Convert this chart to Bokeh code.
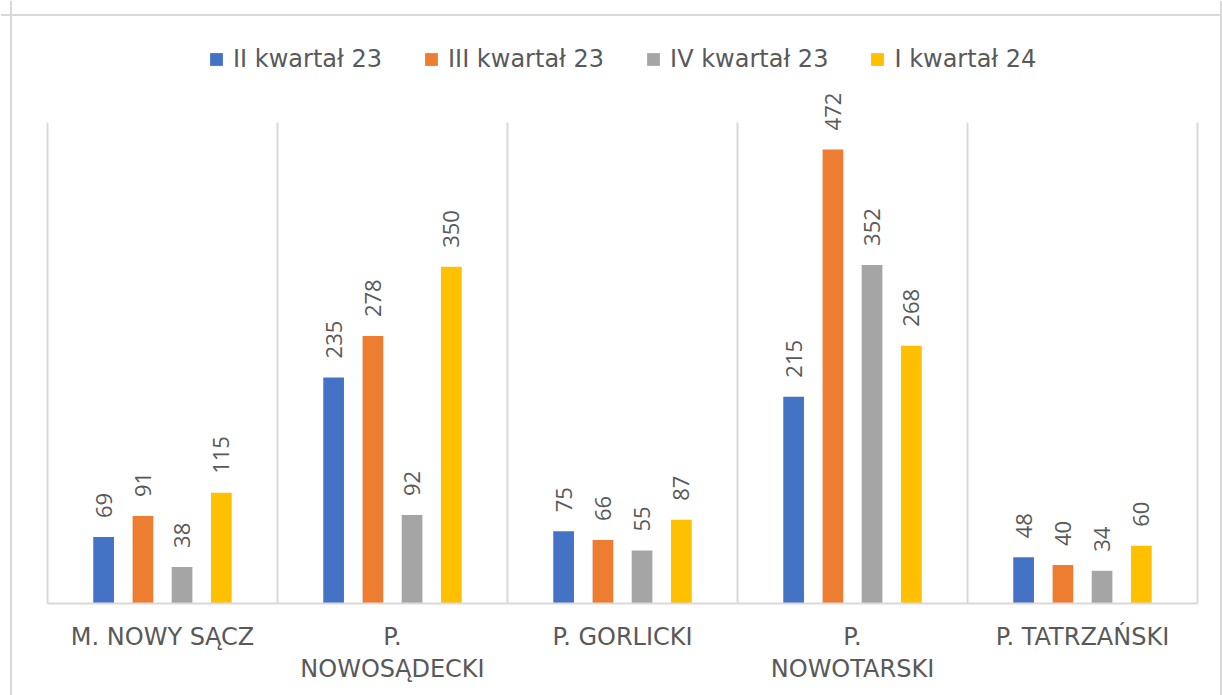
from bokeh.plotting import figure
from bokeh.models import (ColumnDataSource, Range1d, Legend, LegendItem, LinearAxis,
                          FixedTicker, Span)
from bokeh.core.properties import value
from bokeh.embed import file_html
from bokeh.resources import INLINE

categories = ["M. NOWY SĄCZ", "P. NOWOSĄDECKI", "P. GORLICKI", "P. NOWOTARSKI", "P. TATRZAŃSKI"]
tick_labels = ["M. NOWY SĄCZ", "P.\nNOWOSĄDECKI", "P. GORLICKI", "P.\nNOWOTARSKI", "P. TATRZAŃSKI"]
series_names = ["II kwartał 23", "III kwartał 23", "IV kwartał 23", "I kwartał 24"]
q2_23 = [69, 235, 75, 215, 48]
q3_23 = [91, 278, 66, 472, 40]
q4_23 = [38, 92, 55, 352, 34]
q1_24 = [115, 350, 87, 268, 60]
colors = ["#4472C4", "#ED7D31", "#A5A5A5", "#FFC000"]
series = [q2_23, q3_23, q4_23, q1_24]
offsets = [-0.256, -0.085, 0.085, 0.256]
y_max = 500

# layout (page pixels; the canvas sits at the page origin)
W, H = 1222, 695
PLOT_L, PLOT_R, PLOT_T, PLOT_B = 47, 1197, 122, 603
n = len(categories)
xs = (PLOT_R - PLOT_L) / n          # px per category
ys = (PLOT_B - PLOT_T) / y_max      # px per unit


def px_x(px):
    return (px - PLOT_L) / xs


def px_y(py):
    return (PLOT_B - py) / ys


p = figure(
    x_range=Range1d(px_x(0), px_x(W)),
    y_range=Range1d(px_y(H), px_y(0)),
    width=W, height=H,
    output_backend="svg", toolbar_location=None,
    min_border=0, x_axis_location=None, y_axis_location=None,
)
p.outline_line_color = None
p.background_fill_color = "white"
p.border_fill_color = "white"
p.grid.visible = False

# outer chart border
for loc, dim in [(px_x(10.5), "height"), (px_x(1220.5), "height"), (px_y(14.5), "width")]:
    p.add_layout(Span(location=loc, dimension=dim, line_color="#d9d9d9", line_width=2))

# category separators
bounds = list(range(n + 1))
p.segment(x0=bounds, x1=bounds, y0=[0] * (n + 1), y1=[y_max] * (n + 1),
          line_color="#d9d9d9", line_width=2)

items = []
for name, vals, col, off in zip(series_names, series, colors, offsets):
    src = ColumnDataSource(dict(x=[i + 0.5 + off for i in range(n)], v=vals,
                                t=[str(v) for v in vals]))
    r = p.vbar(x="x", top="v", width=0.09, source=src, fill_color=col, line_color=None)
    p.text(x="x", y="v", text="t", source=src,
           angle=1.5708, text_align="left", text_baseline="middle", y_offset=-19,
           text_font=value("Open Sans"), text_font_size="22px", text_color="#595959")
    items.append(LegendItem(label=name, renderers=[r]))

legend = Legend(items=items, orientation="horizontal",
                location=(208, H - 73),
                glyph_width=16, glyph_height=16, label_standoff=9, spacing=41,
                padding=0, margin=0, border_line_color=None, background_fill_alpha=0,
                label_text_font="DejaVu Sans", label_text_font_size="24px",
                label_text_color="#595959", label_height=26)
p.add_layout(legend, "center")

xaxis = LinearAxis(fixed_location=0, bounds=(0, n),
                   ticker=FixedTicker(ticks=[i + 0.5 for i in range(n)]))
xaxis.major_label_overrides = {i + 0.5: lab for i, lab in enumerate(tick_labels)}
xaxis.major_tick_line_color = None
xaxis.minor_tick_line_color = None
xaxis.axis_line_color = "#d9d9d9"
xaxis.axis_line_width = 2
xaxis.major_label_standoff = 13
xaxis.major_label_text_font = "DejaVu Sans"
xaxis.major_label_text_font_size = "24px"
xaxis.major_label_text_color = "#595959"
xaxis.major_label_text_line_height = 1.15
p.add_layout(xaxis, "below")

open("out.html", "w").write(file_html(p, INLINE))
